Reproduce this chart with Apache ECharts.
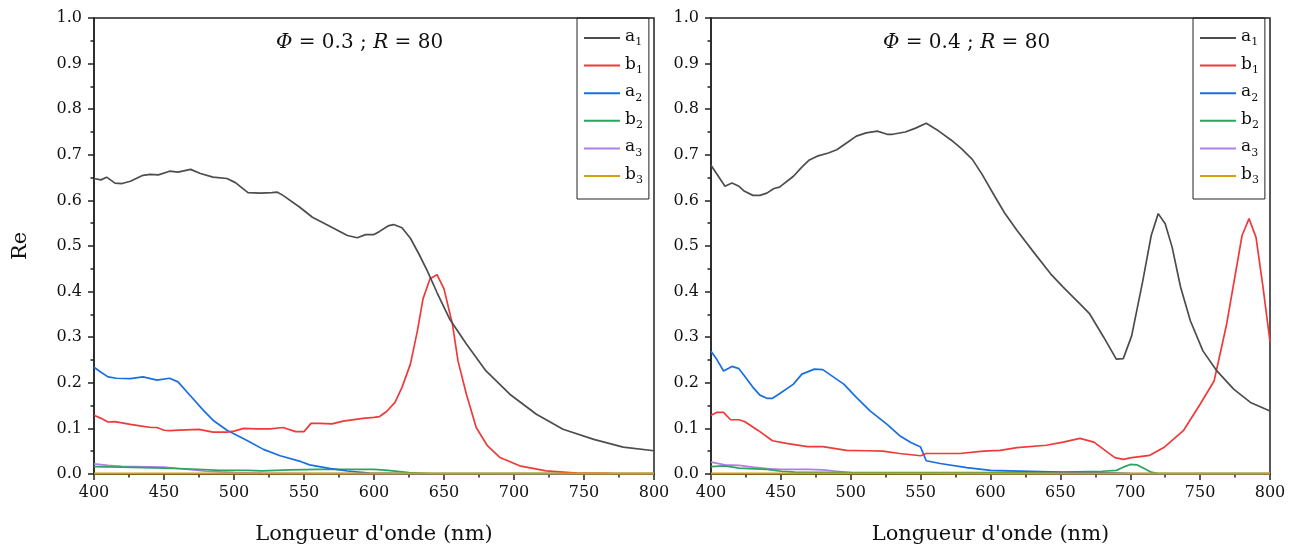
<!DOCTYPE html>
<html>
<head>
<meta charset="utf-8">
<script src="https://cdn.jsdelivr.net/npm/echarts@6/dist/echarts.min.js"></script>
<style>html,body{margin:0;padding:0;background:#fff}#c{width:1298px;height:551px}</style>
</head>
<body>
<div id="c"></div>
<script>
// ---- data (wavelength nm, Re) ----
const seriesNames = ['a1', 'b1', 'a2', 'b2', 'a3', 'b3'];
const seriesColors = ['#4d4d4d', '#f03a3a', '#1a6fe0', '#2aa55e', '#b07ee8', '#d4a00a'];
const panelTitles = [['Φ', ' = 0.3 ; ', 'R', ' = 80'], ['Φ', ' = 0.4 ; ', 'R', ' = 80']];
const xTicks = [400, 450, 500, 550, 600, 650, 700, 750, 800];

// Panel 1 : Φ = 0.3
const L_a1 = [[400,0.648],[405,0.645],[409,0.651],[415,0.638],[420,0.637],[426,0.642],[435,0.655],[440,0.657],[446,0.656],[454,0.664],[460,0.662],[469,0.668],[476,0.659],[485,0.651],[495,0.648],[501,0.639],[510,0.617],[519,0.616],[527,0.617],[531,0.618],[535,0.611],[547,0.585],[556,0.563],[566,0.547],[581,0.523],[588,0.518],[594,0.525],[600,0.525],[604,0.532],[610,0.544],[614,0.547],[620,0.54],[626,0.517],[632,0.483],[638,0.446],[645,0.398],[654,0.34],[666,0.285],[680,0.226],[697,0.175],[716,0.131],[735,0.098],[757,0.076],[778,0.059],[800,0.051]];
const L_b1 = [[400,0.129],[405,0.122],[410,0.114],[415,0.115],[426,0.109],[434,0.105],[441,0.102],[445,0.102],[450,0.096],[454,0.095],[461,0.096],[475,0.098],[485,0.092],[495,0.092],[500,0.094],[507,0.100],[516,0.099],[526,0.099],[535,0.102],[544,0.093],[550,0.093],[555,0.111],[561,0.111],[570,0.110],[578,0.116],[592,0.122],[600,0.124],[604,0.126],[609,0.137],[615,0.157],[620,0.19],[626,0.241],[631,0.314],[635,0.384],[640,0.428],[645,0.437],[650,0.406],[656,0.329],[660,0.248],[666,0.175],[673,0.102],[681,0.062],[690,0.036],[704,0.018],[723,0.007],[745,0.002],[770,0.001],[800,0.0005]];
const L_a2 = [[400,0.234],[405,0.223],[410,0.213],[416,0.21],[426,0.209],[435,0.213],[445,0.206],[454,0.21],[460,0.202],[469,0.171],[478,0.14],[485,0.118],[495,0.096],[509,0.074],[521,0.054],[533,0.040],[548,0.027],[554,0.020],[568,0.0125],[581,0.0066],[597,0.002],[620,0.001],[650,0.0005],[800,0.0003]];
const L_b2 = [[400,0.016],[420,0.015],[450,0.013],[470,0.011],[490,0.008],[510,0.008],[520,0.007],[540,0.009],[560,0.010],[580,0.010],[600,0.010],[610,0.008],[625,0.003],[640,0.001],[800,0.001]];
const L_a3 = [[400,0.022],[410,0.019],[420,0.017],[450,0.015],[460,0.012],[480,0.006],[500,0.003],[520,0.002],[560,0.001],[800,0.001]];
const L_b3 = [[400,0.001],[500,0.001],[600,0.001],[700,0.001],[800,0.001]];

// Panel 2 : Φ = 0.4
const R_a1 = [[400,0.677],[410,0.631],[415,0.638],[420,0.631],[424,0.620],[430,0.611],[435,0.611],[440,0.616],[445,0.626],[449,0.629],[459,0.653],[465,0.673],[470,0.688],[476,0.697],[484,0.704],[490,0.711],[498,0.728],[504,0.741],[511,0.748],[519,0.752],[526,0.745],[530,0.745],[539,0.750],[546,0.758],[554,0.769],[563,0.752],[572,0.732],[579,0.714],[587,0.690],[594,0.657],[603,0.609],[610,0.573],[619,0.534],[631,0.486],[643,0.439],[652,0.41],[664,0.373],[671,0.351],[681,0.30],[690,0.252],[695,0.253],[701,0.303],[709,0.424],[715,0.523],[720,0.571],[725,0.549],[730,0.497],[736,0.41],[743,0.336],[752,0.27],[762,0.226],[774,0.186],[786,0.157],[800,0.138]];
const R_b1 = [[400,0.129],[404,0.135],[409,0.135],[414,0.119],[420,0.119],[424,0.115],[434,0.095],[444,0.073],[454,0.067],[469,0.060],[480,0.060],[497,0.052],[511,0.051],[523,0.050],[535,0.045],[550,0.040],[554,0.045],[564,0.045],[578,0.045],[595,0.050],[607,0.052],[619,0.058],[640,0.063],[652,0.070],[664,0.078],[674,0.070],[681,0.054],[689,0.036],[695,0.032],[701,0.036],[714,0.041],[724,0.058],[738,0.095],[750,0.153],[760,0.204],[769,0.329],[780,0.523],[785,0.560],[790,0.519],[795,0.41],[800,0.29]];
const R_a2 = [[400,0.269],[404,0.252],[409,0.226],[415,0.236],[420,0.231],[424,0.215],[430,0.190],[435,0.173],[440,0.166],[444,0.166],[449,0.176],[459,0.197],[465,0.219],[474,0.230],[480,0.229],[495,0.197],[504,0.168],[514,0.138],[526,0.109],[535,0.084],[543,0.069],[550,0.059],[554,0.029],[564,0.023],[583,0.014],[600,0.008],[650,0.004],[690,0.002],[700,0.001],[800,0.0005]];
const R_b2 = [[400,0.016],[410,0.018],[420,0.013],[440,0.010],[450,0.006],[460,0.004],[500,0.003],[600,0.003],[650,0.004],[680,0.006],[690,0.008],[695,0.015],[700,0.021],[705,0.020],[710,0.012],[715,0.004],[720,0.001],[800,0.001]];
const R_a3 = [[400,0.026],[410,0.020],[420,0.019],[430,0.015],[440,0.012],[450,0.010],[470,0.010],[480,0.009],[490,0.006],[500,0.003],[520,0.002],[600,0.001],[800,0.001]];
const R_b3 = [[400,0.001],[500,0.001],[600,0.001],[700,0.001],[800,0.001]];

const panels = [[L_a1, L_b1, L_a2, L_b2, L_a3, L_b3], [R_a1, R_b1, R_a2, R_b2, R_a3, R_b3]];

// ---- chart ----
const FONT = 'DejaVu Serif';
const chart = echarts.init(document.getElementById('c'), null, {renderer: 'canvas'});

const grids = [
  {left: 94, right: 644, top: 18, bottom: 77},
  {left: 711, right: 28, top: 18, bottom: 77}
].map(g => Object.assign(g, {show: true, borderColor: '#222', borderWidth: 1.5, backgroundColor: 'transparent', containLabel: false}));

const axisCommon = {
  axisLine: {show: true, onZero: false, lineStyle: {color: '#222', width: 1.5}},
  axisTick: {show: true, inside: false, length: 6, lineStyle: {color: '#222', width: 1.5}},
  minorTick: {show: true, splitNumber: 2, length: 3.5, lineStyle: {color: '#222', width: 1.5}},
  splitLine: {show: false},
  axisLabel: {color: '#111', fontFamily: FONT, fontSize: 16}
};

const xAxes = [0, 1].map(i => Object.assign({}, axisCommon, {
  type: 'value', gridIndex: i, min: xTicks[0], max: xTicks[xTicks.length - 1], interval: 50,
  name: "Longueur d'onde (nm)", nameLocation: 'middle', nameGap: 50,
  nameTextStyle: {color: '#111', fontFamily: FONT, fontSize: 21},
  axisLabel: Object.assign({}, axisCommon.axisLabel, {margin: 11})
}));
const yAxes = [0, 1].map(i => Object.assign({}, axisCommon, {
  type: 'value', gridIndex: i, min: 0, max: 1, interval: 0.1,
  name: i === 0 ? 'Re' : '', nameLocation: 'middle', nameGap: 63,
  nameTextStyle: {color: '#111', fontFamily: FONT, fontSize: 21},
  axisLabel: Object.assign({}, axisCommon.axisLabel, {margin: 12, formatter: v => v.toFixed(1)})
}));

const series = [];
panels.forEach((panel, p) => {
  panel.forEach((data, k) => {
    series.push({
      type: 'line', name: seriesNames[k], xAxisIndex: p, yAxisIndex: p,
      data: data, showSymbol: false, symbol: 'none', smooth: false,
      color: seriesColors[k],
      lineStyle: {color: seriesColors[k], width: k === 5 ? 2 : 1.7},
      z: k === 5 ? 12 : 10 - k, animation: false
    });
  });
});

const legendBase = {
  orient: 'vertical', top: 18, data: seriesNames,
  icon: 'rect', itemWidth: 36, itemHeight: 2, itemGap: 7.6,
  borderColor: '#222', borderWidth: 1, padding: [10, 6, 13, 7],
  selectedMode: false,
  formatter: n => '{m|' + n[0] + '}{s|' + n[1] + '}',
  textStyle: {
    fontFamily: FONT, color: '#111',
    rich: {
      m: {fontFamily: FONT, fontSize: 17, lineHeight: 20, verticalAlign: 'top', color: '#111'},
      s: {fontFamily: FONT, fontSize: 11, lineHeight: 20, verticalAlign: 'bottom', color: '#111'}
    }
  }
};
const legends = [Object.assign({}, legendBase, {left: 577}), Object.assign({}, legendBase, {left: 1193})];

const titleCenters = [361, 968];
const graphics = panelTitles.map((t, i) => ({
  type: 'text', left: titleCenters[i] - 85, top: 33, z: 100,
  style: {
    text: '{i|' + t[0] + '}{n|' + t[1] + '}{i|' + t[2] + '}{n|' + t[3] + '}',
    rich: {
      i: {fontFamily: FONT, fontStyle: 'italic', fontSize: 20, fill: '#111'},
      n: {fontFamily: FONT, fontSize: 20, fill: '#111'}
    }
  }
}));

chart.setOption({
  animation: false,
  backgroundColor: '#fff',
  grid: grids,
  xAxis: xAxes,
  yAxis: yAxes,
  legend: legends,
  series: series,
  graphic: graphics
});
</script>
</body>
</html>
